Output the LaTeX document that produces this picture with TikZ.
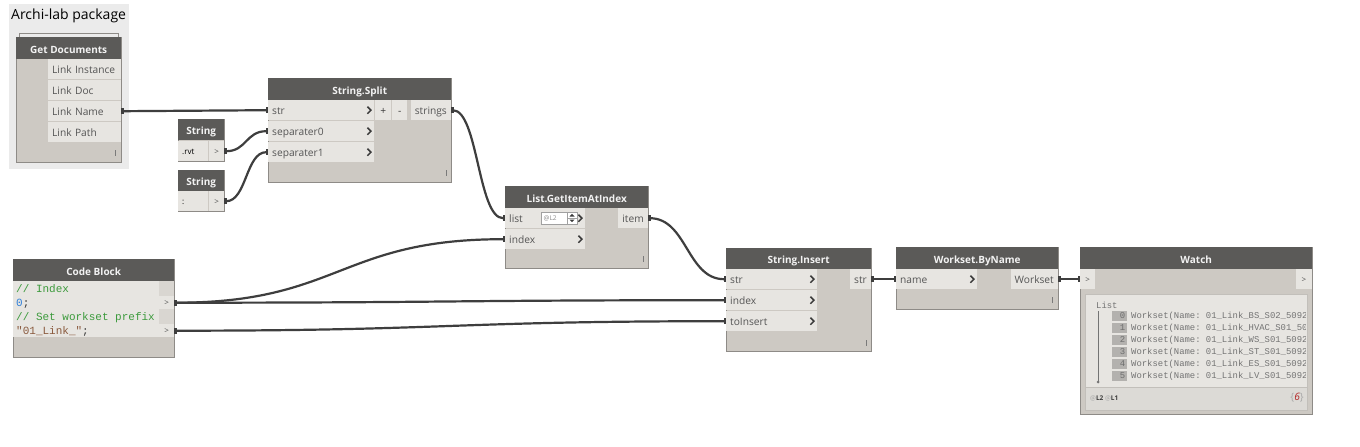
\documentclass[tikz,border=0pt]{standalone}
\usepackage{fontspec}
\setmainfont{Open Sans}
\setmonofont{Liberation Mono}
\usepackage{tikz}
\usetikzlibrary{arrows.meta}

\definecolor{hdrc}{HTML}{5B5A58}
\definecolor{hdrtext}{HTML}{F2F2F2}
\definecolor{bodyc}{HTML}{CDC9C3}
\definecolor{edgec}{HTML}{8E8B87}
\definecolor{rowc}{HTML}{E7E5E1}
\definecolor{lblc}{HTML}{555555}
\definecolor{grpc}{HTML}{EBEBEB}
\definecolor{wirec}{HTML}{3E3E3E}
\definecolor{chevc}{HTML}{3A3A3A}
\definecolor{gripc}{HTML}{7A7A7A}
\definecolor{cmtc}{HTML}{3C9A3C}
\definecolor{numc}{HTML}{2F7FD8}
\definecolor{strc}{HTML}{8A5A3E}
\definecolor{colc}{HTML}{D9D6D1}
\definecolor{lvlc}{HTML}{A0A0A0}
\definecolor{lvltext}{HTML}{8C8C8C}
\definecolor{panelc}{HTML}{C2BFBA}
\definecolor{footc}{HTML}{DCDAD6}
\definecolor{listc}{HTML}{747474}
\definecolor{idxc}{HTML}{B3B1AE}
\definecolor{idxtext}{HTML}{6E6E6E}
\definecolor{atc}{HTML}{A8A8A8}
\definecolor{cntc}{HTML}{B22222}

\newcommand{\titlefont}{\fontsize{14}{16}\selectfont}
\newcommand{\lblfont}{\fontsize{10.2}{12}\selectfont}
\newcommand{\hdrfont}{\fontsize{10}{12}\selectfont\bfseries}
\newcommand{\smallfont}{\fontsize{8}{10}\selectfont}
\newcommand{\tinyfont}{\fontsize{6.5}{8}\selectfont}
\newcommand{\codefont}{\fontsize{11}{13}\selectfont\ttfamily}
\newcommand{\listfont}{\fontsize{8.9}{10}\selectfont\ttfamily}

\begin{document}
\begin{tikzpicture}[x=1pt,y=-1pt]
\tikzstyle{every node}+=[inner sep=0pt]
\tikzstyle{body}=[fill=bodyc, draw=edgec, line width=0.8pt]
\tikzstyle{hdr}=[fill=hdrc, text=hdrtext, font=\hdrfont, anchor=north west, minimum height=22pt, text height=10pt, text depth=0pt]
\tikzstyle{inport}=[fill=rowc, text=lblc, font=\lblfont, anchor=north west, minimum height=20pt, inner xsep=4pt, align=left, text height=9.4pt, text depth=0pt]
\tikzstyle{outport}=[fill=rowc, text=lblc, font=\lblfont, anchor=north east, minimum height=20pt, inner xsep=4pt, text height=9.4pt, text depth=0pt]
\tikzstyle{wire}=[draw=wirec, line width=2.2pt, {Rectangle[length=2.5pt,width=6pt]}-{Rectangle[length=2.5pt,width=6pt]}]
\tikzset{chev/.pic={\draw[draw=chevc, line width=1.5pt] (-2,-3.5) -- (1.5,0) -- (-2,3.5);},
  grip/.pic={\draw[draw=gripc, line width=0.8pt] (0,-3) -- (0,3);}}
\fill[white] (0,0) rectangle (1360,447);
\useasboundingbox (0,0) rectangle (1360,447);
% group
\fill[grpc] (9,4) rectangle (129,169);
\node[anchor=west, font=\titlefont] (grp) at (11,16) {Archi-lab package};
% Get Documents
\draw[fill=grpc, draw=edgec, line width=0.8pt] (19,33) rectangle (118,37);
\draw[body] (16,37) rectangle (121,162);
\node[hdr, minimum width=105pt] (gd) at (16,37) {Get Documents};
\node[inport, text width=65pt] (gd-inst) at (48,59) {Link Instance};
\node[inport, text width=65pt] (gd-doc) at (48,80) {Link Doc};
\node[inport, text width=65pt] (gd-name) at (48,101) {Link Name};
\node[inport, text width=65pt] (gd-path) at (48,122) {Link Path};
\pic at (115,153) {grip};
% String.Split
\draw[body] (268,78) rectangle (451,182);
\node[hdr, minimum width=183pt] (ss) at (268,78) {String.Split};
\node[inport, text width=98pt] (ss-str) at (268,100) {str};
\node[inport, text width=98pt] (ss-sep0) at (268,121) {separater0};
\node[inport, text width=98pt] (ss-sep1) at (268,142) {separater1};
\foreach \p in {ss-str,ss-sep0,ss-sep1} \pic at ([xshift=-5pt]\p.east) {chev};
\node[inport, minimum width=16pt, text=chevc] (ss-plus) at (375,100) {+};
\node[inport, minimum width=15pt, text=chevc] (ss-minus) at (392,100) {-};
\node[outport] (ss-out) at (451,100) {strings};
\pic at (446,173) {grip};
% String inputs
\draw[body] (178,119) rectangle (224,161);
\node[hdr, minimum width=46pt, minimum height=21pt] (s1) at (178,119) {String};
\node[inport, text width=22pt, font=\smallfont, text=black, text height=7.5pt] (s1-val) at (178,141) {.rvt};
\node[inport, minimum width=15pt, font=\smallfont, text height=7.5pt] (s1-out) at (209,141) {>};
\draw[body] (178,170) rectangle (224,211);
\node[hdr, minimum width=46pt, minimum height=21pt] (s2) at (178,170) {String};
\node[inport, text width=22pt, font=\smallfont, text=black, text height=7.5pt] (s2-val) at (178,191) {:};
\node[inport, minimum width=15pt, font=\smallfont, text height=7.5pt] (s2-out) at (209,191) {>};
% Code Block
\draw[body] (13,259) rectangle (174,357);
\node[hdr, minimum width=161pt] (cb) at (13,259) {Code Block};
\fill[rowc] (13,281) rectangle (159,337);
\fill[colc] (159,281) rectangle (174,337);
\node[anchor=base west, font=\codefont, text=cmtc] (cb-l1) at (16,292) {// Index};
\node[anchor=base west, font=\codefont, text=chevc] (cb-l2) at (16,306) {{\color{numc}0};};
\node[anchor=base west, font=\codefont, text=cmtc] (cb-l3) at (16,320.5) {// Set workset prefix};
\node[anchor=base west, font=\codefont, text=chevc] (cb-l4) at (16,334.5) {{\color{strc}"01\_Link\_"};};
\node[fill=rowc, text=lblc, font=\smallfont, anchor=north west, minimum width=15pt, minimum height=13pt] (cb-out1) at (159,296) {>};
\node[fill=rowc, text=lblc, font=\smallfont, anchor=north west, minimum width=15pt, minimum height=13pt] (cb-out2) at (159,324) {>};
% List.GetItemAtIndex
\draw[body] (505,186) rectangle (648,268);
\node[hdr, minimum width=143pt] (gi) at (505,186) {List.GetItemAtIndex};
\node[inport, text width=72pt] (gi-list) at (505,208) {list};
\node[inport, text width=72pt] (gi-index) at (505,229) {index};
\pic at ([xshift=-5pt]gi-list.east) {chev};
\pic at ([xshift=-5pt]gi-index.east) {chev};
\draw[fill=white, draw=lvlc] (541,212) rectangle (577,224);
\node[anchor=west, font=\tinyfont, text=lvltext] (gi-lvl) at (543.5,218) {@L2};
\draw[lvlc] (567,212) -- (567,224) (567,218) -- (577,218);
\fill[chevc] (569.5,216.5) -- (574.5,216.5) -- (572,213.8) -- cycle;
\fill[chevc] (569.5,219.5) -- (574.5,219.5) -- (572,222.2) -- cycle;
\node[outport] (gi-item) at (648,208) {item};
\pic at (643,259) {grip};
% String.Insert
\draw[body] (726,248) rectangle (871,351);
\node[hdr, minimum width=145pt, minimum height=21pt] (si) at (726,248) {String.Insert};
\node[inport, text width=83pt] (si-str) at (726,269) {str};
\node[inport, text width=83pt] (si-index) at (726,290) {index};
\node[inport, text width=83pt] (si-ins) at (726,311) {toInsert};
\foreach \p in {si-str,si-index,si-ins} \pic at ([xshift=-5pt]\p.east) {chev};
\node[outport] (si-out) at (871,269) {str};
\pic at (866,343) {grip};
% Workset.ByName
\draw[body] (896,247) rectangle (1058,309);
\node[hdr, minimum width=162pt] (wb) at (896,247) {Workset.ByName};
\node[inport, text width=73pt] (wb-name) at (896,269) {name};
\pic at ([xshift=-5pt]wb-name.east) {chev};
\node[outport] (wb-out) at (1058,269) {Workset};
\pic at (1052,300) {grip};
% Watch
\draw[body] (1080,247) rectangle (1312,414);
\node[hdr, minimum width=232pt] (wt) at (1080,247) {Watch};
\node[inport, minimum width=15pt, font=\smallfont, text height=7.5pt] (wt-in) at (1080,269) {>};
\node[outport, minimum width=16pt, font=\smallfont, text height=7.5pt] (wt-out) at (1312,269) {>};
\draw[fill=rowc, draw=panelc] (1085,294) rectangle (1307,387);
\draw[fill=footc, draw=panelc] (1085,387) rectangle (1307,410);
\node[anchor=west, font=\listfont, text=listc] (wt-list) at (1096,305) {List};
\draw[listc] (1098,311) -- (1098,381);
\fill[listc] (1098,382) circle (1.5);
\begin{scope}
\clip (1085,294) rectangle (1305.5,387);
\foreach \i/\ws in {0/BS\_S02,1/HVAC\_S01,2/WS\_S01,3/ST\_S01,4/ES\_S01,5/LV\_S01} {
  \node[fill=idxc, text=idxtext, font=\listfont, text width=12pt, align=right, inner xsep=1.5pt, minimum height=10pt, anchor=east] (wt-i\i) at (1127,{316+12*\i}) {\i};
  \node[anchor=west, font=\listfont, text=listc] (wt-t\i) at (1131,{316+12*\i}) {Workset(Name: 01\_Link\_\ws\_5092\_};
}
\end{scope}
\node[anchor=west, font=\tinyfont, text=chevc] (wt-lv) at (1090,398) {{\color{atc}@}\textbf{L2} {\color{atc}@}\textbf{L1}};
\node[anchor=east, font=\lblfont] (wt-cnt) at (1304,398) {{\color{atc}\{}{\color{cntc}\textit{6}}{\color{atc}\}}};
% wires
\draw[wire] (gd-name.east) .. controls +(73,0) and +(-73,0) .. (ss-str.west);
\draw[wire] (s1-out.east) .. controls +(22,0) and +(-22,0) .. (ss-sep0.west);
\draw[wire] (s2-out.east) .. controls +(22,0) and +(-22,0) .. (ss-sep1.west);
\draw[wire] (ss-out.east) .. controls +(27,0) and +(-27,0) .. (gi-list.west);
\draw[wire] (cb-out1.east) .. controls +(165,0) and +(-165,0) .. (gi-index.west);
\draw[wire] (cb-out1.east) .. controls +(276,0) and +(-276,0) .. (si-index.west);
\draw[wire] (cb-out2.east) .. controls +(276,0) and +(-276,0) .. (si-ins.west);
\draw[wire] (gi-item.east) .. controls +(39,0) and +(-39,0) .. (si-str.west);
\draw[wire] (si-out.east) -- (wb-name.west);
\draw[wire] (wb-out.east) -- (wt-in.west);
\end{tikzpicture}
\end{document}
